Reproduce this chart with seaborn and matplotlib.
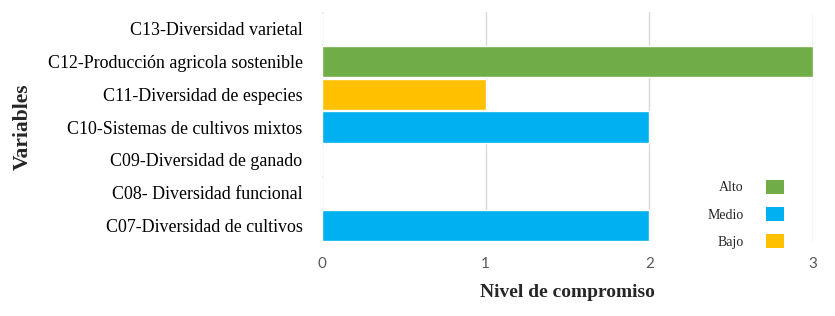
import matplotlib
matplotlib.use("Agg")
import matplotlib.pyplot as plt
import seaborn as sns
import pandas as pd
from matplotlib.patches import Patch

categories = ["C13-Diversidad varietal", "C12-Producción agricola sostenible",
              "C11-Diversidad de especies", "C10-Sistemas de cultivos mixtos",
              "C09-Diversidad de ganado", "C08- Diversidad funcional",
              "C07-Diversidad de cultivos"]
values = [0, 3, 1, 2, 0, 0, 2]
levels = ["Alto", "Alto", "Bajo", "Medio", "Medio", "Medio", "Medio"]
legend_levels = ["Alto", "Medio", "Bajo"]
colors = {"Alto": "#70AD47", "Medio": "#00B0F0", "Bajo": "#FFC000"}
xticks = [0, 1, 2, 3]

df = pd.DataFrame({"Variable": categories, "Nivel": values, "Grupo": levels})

sns.set_theme(style="white")
serif = ["Liberation Serif", "DejaVu Serif"]

fig = plt.figure(figsize=(8.35, 3.16), dpi=100)
ax = fig.add_axes([0.3856, 0.234, 0.5881, 0.728])

sns.barplot(data=df, y="Variable", x="Nivel", hue="Grupo", palette=colors,
            hue_order=legend_levels, order=categories, orient="h", dodge=False,
            width=0.95, ax=ax, legend=False, saturation=1)

ax.set_xlim(0, 3)
ax.set_xticks(xticks)
ax.set_xticklabels([str(t) for t in xticks], fontfamily="Lato", fontsize=11, color="#595959")
ax.xaxis.grid(True, color="#D9D9D9", linewidth=1)
ax.set_axisbelow(True)
for s in ax.spines.values():
    s.set_visible(False)
ax.tick_params(axis="both", length=0)
ax.tick_params(axis="x", pad=11)
ax.tick_params(axis="y", pad=14)
for lbl in ax.get_yticklabels():
    lbl.set_fontfamily(serif)
    lbl.set_fontsize(12.9)
    lbl.set_color("#000000")

ax.set_xlabel("Nivel de compromiso", fontfamily=serif, fontsize=14, fontweight="bold", labelpad=9)
ax.set_ylabel("Variables", fontfamily=serif, fontsize=15.5, fontweight="bold")
ax.yaxis.set_label_coords(-0.588, 0.5)

handles = [Patch(facecolor=colors[l], edgecolor="none", label=l) for l in legend_levels]
leg = ax.legend(handles=handles, loc="lower right", bbox_to_anchor=(0.94, -0.03),
                borderaxespad=0, borderpad=0,
                frameon=False, markerfirst=False, handlelength=1.3, handleheight=1.2,
                labelspacing=0.9, handletextpad=1.6, prop={"family": serif, "size": 10})

fig.savefig("out.png", dpi=100)
